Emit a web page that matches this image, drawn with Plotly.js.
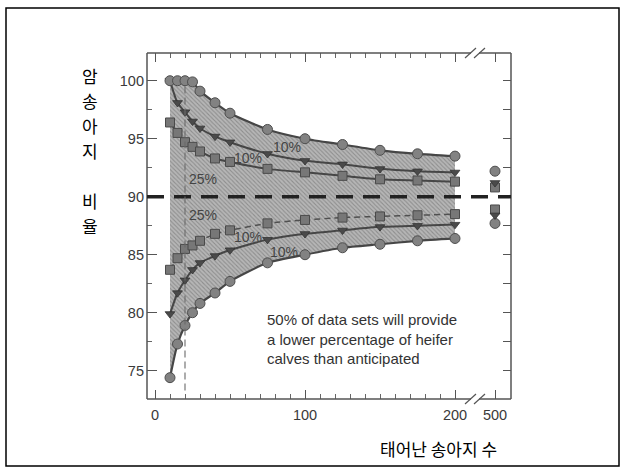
<!DOCTYPE html>
<html>
<head>
<meta charset="utf-8">
<script src="https://cdn.plot.ly/plotly-3.0.1.min.js"></script>
<style>
html,body{margin:0;padding:0;background:#fff;}
#chart{width:626px;height:471px;}
</style>
</head>
<body>
<div id="chart"></div>
<script>
// ---- data ----
const sampleSizes = [10, 15, 20, 25, 30, 40, 50, 75, 100, 125, 150, 175, 200];
const upperCircle = [100, 100, 100, 99.9, 99.1, 98.1, 97.2, 95.8, 95.0, 94.5, 94.0, 93.7, 93.5];
const upperTri    = [100, 98.1, 97.3, 96.5, 95.9, 95.2, 94.7, 93.7, 93.1, 92.8, 92.4, 92.2, 92.1];
const upperSq     = [96.4, 95.5, 94.7, 94.3, 93.9, 93.3, 93.0, 92.4, 92.1, 91.8, 91.5, 91.4, 91.3];
const lowerSq     = [83.7, 84.7, 85.5, 85.8, 86.2, 86.8, 87.1, 87.7, 88.0, 88.2, 88.3, 88.4, 88.5];
const lowerTri    = [79.9, 81.7, 82.8, 83.7, 84.3, 84.9, 85.4, 86.3, 86.8, 87.1, 87.4, 87.5, 87.6];
const lowerCircle = [74.4, 77.3, 78.9, 80.0, 80.8, 81.7, 82.7, 84.3, 85.0, 85.6, 85.9, 86.2, 86.4];

const bigSample = [500, 500];
const circle500 = [92.2, 87.7];
const tri500    = [91.2, 88.4];
const sq500     = [90.8, 88.9];

const expected = 90;
const refSample = 20;

const xTickVals = [0, 100, 200];
const xTickText = ['0', '100', '200'];
const x2TickVals = [500];
const x2TickText = ['500'];
const yTickVals = [75, 80, 85, 90, 95, 100];

const yTitleChars = ['암', '송', '아', '지', '비', '율'];
const xTitle = '태어난 송아지 수';
const noteText = '50% of data sets will provide<br>a lower percentage of heifer<br>calves than anticipated';
const bandLabels = ['10%', '10%', '25%', '25%', '10%', '10%'];
const bandLabelX = [88, 62, 32, 32, 62, 86];
const bandLabelY = [94.3, 93.3, 91.5, 88.4, 86.55, 85.2];

// ---- geometry helpers (pixel -> paper) ----
const L = 147, T = 53, W = 364, H = 346;
const px = v => (v - L) / W;
const py = v => (T + H - v) / H;
const breakDomain = px(466);

const FONT = 'Liberation Sans, Arial, sans-serif';
const lineCol = '#464646';

const circleMarker = {symbol: 'circle', size: 10, color: '#828282', line: {color: '#4e4e4e', width: 1}};
const triMarker = {symbol: 'triangle-down', size: 8.5, color: '#4a4a4a', line: {color: '#333', width: 0.8}};
const sqMarker = {symbol: 'square', size: 9, color: '#777', line: {color: '#4a4a4a', width: 1}};

const traces = [
  // shaded band
  {x: sampleSizes, y: lowerCircle, mode: 'lines', line: {width: 0, shape: 'spline', smoothing: 0.6}},
  {x: sampleSizes, y: upperCircle, mode: 'lines', line: {width: 0, shape: 'spline', smoothing: 0.6}, fill: 'tonexty',
   fillcolor: '#b0b0b0',
   fillpattern: {shape: '\\', bgcolor: '#b6b6b6', fgcolor: '#8e8e8e', size: 3, solidity: 0.35}},
  // lines + markers
  {x: sampleSizes, y: lowerSq, mode: 'lines+markers', line: {color: '#505050', width: 1.5, dash: '6px,4px', shape: 'spline', smoothing: 0.6}, marker: sqMarker},
  {x: sampleSizes, y: upperSq, mode: 'lines+markers', line: {color: lineCol, width: 2, shape: 'spline', smoothing: 0.6}, marker: sqMarker},
  {x: sampleSizes, y: lowerTri, mode: 'lines+markers', line: {color: lineCol, width: 2, shape: 'spline', smoothing: 0.6}, marker: triMarker},
  {x: sampleSizes, y: upperTri, mode: 'lines+markers', line: {color: lineCol, width: 2, shape: 'spline', smoothing: 0.6}, marker: triMarker},
  {x: sampleSizes, y: lowerCircle, mode: 'lines+markers', line: {color: lineCol, width: 2.2, shape: 'spline', smoothing: 0.6}, marker: circleMarker},
  {x: sampleSizes, y: upperCircle, mode: 'lines+markers', line: {color: lineCol, width: 2.2, shape: 'spline', smoothing: 0.6}, marker: circleMarker},
  // n = 500
  {x: bigSample, y: circle500, xaxis: 'x2', yaxis: 'y2', mode: 'markers', marker: circleMarker},
  {x: bigSample, y: sq500, xaxis: 'x2', yaxis: 'y2', mode: 'markers', marker: sqMarker},
  {x: bigSample, y: tri500, xaxis: 'x2', yaxis: 'y2', mode: 'markers', marker: triMarker}
].map(t => Object.assign({showlegend: false, hoverinfo: 'skip'}, t));

const yRange = [72.56, 102.39];
const tickFont = {family: FONT, size: 14.5, color: '#3a3a3a'};

const frameCol = '#555';
const shapes = [
  // outer border
  {type: 'rect', xref: 'paper', yref: 'paper', x0: px(6), x1: px(619), y0: py(466), y1: py(8), line: {color: '#000', width: 1.5}},
  // frame
  {type: 'line', xref: 'paper', yref: 'paper', x0: 0, x1: 0, y0: 0, y1: 1, line: {color: frameCol, width: 1.5}},
  {type: 'line', xref: 'paper', yref: 'paper', x0: 1, x1: 1, y0: 0, y1: 1, line: {color: frameCol, width: 1.5}},
  {type: 'line', xref: 'paper', yref: 'paper', x0: 0, x1: px(471), y0: 0, y1: 0, line: {color: frameCol, width: 1.5}},
  {type: 'line', xref: 'paper', yref: 'paper', x0: px(479), x1: 1, y0: 0, y1: 0, line: {color: frameCol, width: 1.5}},
  {type: 'line', xref: 'paper', yref: 'paper', x0: 0, x1: px(471), y0: 1, y1: 1, line: {color: frameCol, width: 1.5}},
  {type: 'line', xref: 'paper', yref: 'paper', x0: px(479), x1: 1, y0: 1, y1: 1, line: {color: frameCol, width: 1.5}},
  // break slashes
  {type: 'line', xref: 'paper', yref: 'paper', x0: px(465), x1: px(476), y0: py(404), y1: py(394), line: {color: frameCol, width: 1.2}},
  {type: 'line', xref: 'paper', yref: 'paper', x0: px(474), x1: px(485), y0: py(404), y1: py(394), line: {color: frameCol, width: 1.2}},
  {type: 'line', xref: 'paper', yref: 'paper', x0: px(465), x1: px(476), y0: py(58), y1: py(48), line: {color: frameCol, width: 1.2}},
  {type: 'line', xref: 'paper', yref: 'paper', x0: px(474), x1: px(485), y0: py(58), y1: py(48), line: {color: frameCol, width: 1.2}},
  // expected 90% line
  {type: 'line', xref: 'paper', yref: 'y', x0: 0, x1: 1, y0: expected, y1: expected, layer: 'above',
   line: {color: '#222', width: 3.5, dash: '17px,10px'}},
  // reference sample size line
  {type: 'line', xref: 'x', yref: 'y', x0: refSample, x1: refSample, y0: 73.3, y1: 99.5, layer: 'above',
   line: {color: '#6a6a6a', width: 1.1, dash: '7px,4px'}}
];

const yTitleY = [75, 100, 125, 150, 200, 225];
const annotations = [];
yTitleChars.forEach((c, i) => annotations.push({
  xref: 'paper', yref: 'paper', x: px(90), y: py(yTitleY[i]), text: c, showarrow: false,
  xanchor: 'center', yanchor: 'middle', font: {family: 'Noto Sans CJK KR', size: 17, color: '#000'}
}));
annotations.push({xref: 'paper', yref: 'paper', x: px(438), y: py(448), text: xTitle, showarrow: false,
  xanchor: 'center', yanchor: 'middle', font: {family: 'Noto Sans CJK KR', size: 17, color: '#000'}});
annotations.push({xref: 'x', yref: 'y', x: 73.3, y: 77.73, text: noteText, showarrow: false, align: 'left',
  xanchor: 'left', yanchor: 'middle', font: {family: FONT, size: 15, color: '#333'}});
bandLabels.forEach((t, i) => annotations.push({
  xref: 'x', yref: 'y', x: bandLabelX[i], y: bandLabelY[i], text: t, showarrow: false,
  xanchor: 'center', yanchor: 'middle', font: {family: FONT, size: 14, color: '#444'}
}));

const layout = {
  width: 626, height: 471,
  margin: {l: L, r: 626 - L - W, t: T, b: 471 - T - H, pad: 0},
  paper_bgcolor: '#fff', plot_bgcolor: 'rgba(0,0,0,0)',
  showlegend: false,
  xaxis: {
    domain: [0, breakDomain], range: [-5.333, 207.33], anchor: 'y',
    tickmode: 'array', tickvals: xTickVals, ticktext: xTickText,
    ticks: 'inside', ticklen: 9, tickwidth: 1, tickcolor: '#555', mirror: 'ticks',
    minor: {dtick: 10, tick0: 0, ticks: 'inside', ticklen: 5, tickcolor: '#666', tickwidth: 1},
    showline: false, showgrid: false, zeroline: false, tickfont: tickFont, ticklabelstandoff: 5
  },
  xaxis2: {
    domain: [breakDomain, 1], range: [471, 516], anchor: 'y2',
    tickmode: 'array', tickvals: x2TickVals, ticktext: x2TickText,
    ticks: 'inside', ticklen: 9, tickwidth: 1, tickcolor: '#555', mirror: 'ticks',
    showline: false, showgrid: false, zeroline: false, tickfont: tickFont, ticklabelstandoff: 5
  },
  yaxis: {
    range: yRange, anchor: 'x', side: 'left',
    tickmode: 'array', tickvals: yTickVals,
    ticks: 'inside', ticklen: 10, tickwidth: 1, tickcolor: '#555',
    minor: {dtick: 2.5, tick0: 0, ticks: 'inside', ticklen: 5, tickcolor: '#666', tickwidth: 1},
    showline: false, showgrid: false, zeroline: false, tickfont: tickFont, ticklabelstandoff: 2
  },
  yaxis2: {
    range: yRange, anchor: 'x2', side: 'right',
    dtick: 2.5, tick0: 0, ticks: 'inside', ticklen: 8, tickwidth: 1, tickcolor: '#555',
    showticklabels: false, showline: false, showgrid: false, zeroline: false
  },
  shapes: shapes,
  annotations: annotations
};

Plotly.newPlot('chart', traces, layout, {displayModeBar: false, staticPlot: true});
</script>
</body>
</html>
